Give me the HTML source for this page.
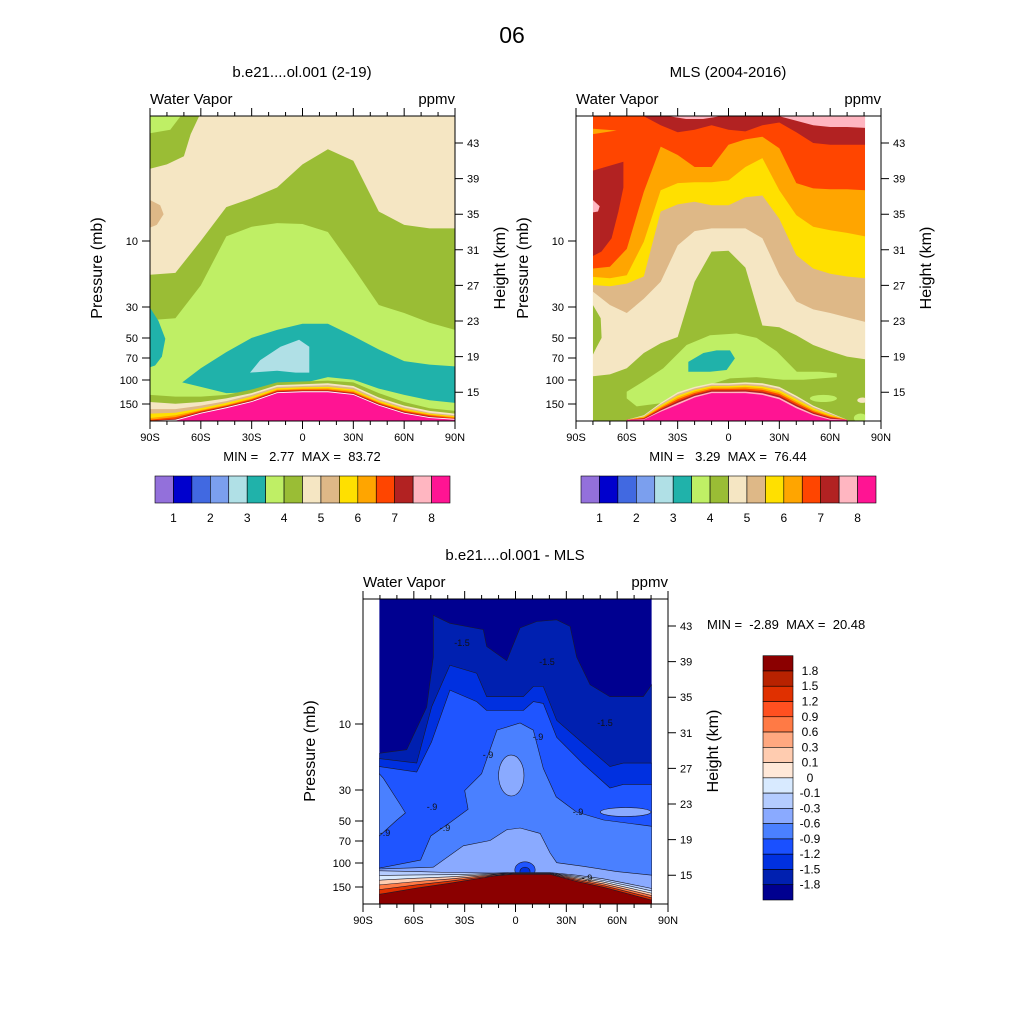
<!DOCTYPE html>
<html><head><meta charset="utf-8">
<style>
html,body{margin:0;padding:0;background:#fff;}
svg{display:block;font-family:"Liberation Sans",sans-serif;}
text{white-space:pre;}
</style></head>
<body>
<svg id="chart" width="1024" height="1024" viewBox="0 0 1024 1024" xmlns="http://www.w3.org/2000/svg">
<text x="512" y="43" font-size="23" text-anchor="middle">06</text>
</svg>
<script>
// ---------- data ----------
const latTickLabels = ['90S','60S','30S','0','30N','60N','90N'];
const latTickValues = [-90,-60,-30,0,30,60,90];
const pressureLabels = ['10','30','50','70','100','150'];
const pressureOffsets = [125,191,222,242,264,288];
const heightLabels = ['43','39','35','31','27','23','19','15'];
const heightValues = [43,39,35,31,27,23,19,15];
const wvColors = ['#9370DB','#0000CD','#4169E1','#7B9FEE','#B0E0E6','#20B2AA','#BFEF65','#9ABD35','#F5E6C3','#DEB887','#FFE000','#FFA500','#FF4500','#B22222','#FFB6C1','#FF1493'];
const wvLabels = ['1','2','3','4','5','6','7','8'];
const diffColors = ['#8B0000','#B82200','#E03000','#FF5020','#FF7A45','#FFA880','#FFCCB0','#FFE8D8','#D8EAFF','#B4CCFF','#8AAAFF','#4A80FF','#1A50FF','#0030E0','#0020B0','#000090'];
const diffLabels = ['1.8','1.5','1.2','0.9','0.6','0.3','0.1','0','-0.1','-0.3','-0.6','-0.9','-1.2','-1.5','-1.8'];

// plot 1 (model)
const p1Lat = [-90,-75,-60,-45,-30,-15,0,15,30,45,60,75,90];
const p1Olive = [28.2,28.4,32,35.8,36.8,38,40.6,42.3,41,35.3,33.8,33.4,33.4];
const p1LightGreen = [23.1,23.3,27,32.5,33.6,34,33.9,33,29,24.8,23.9,22.8,22];
const p1TealLat = [-71,-60,-45,-30,-15,0,15,30,45,60,75,90];
const p1TealTop = [16.1,17.7,19.5,21.1,22,22.7,22.7,21.3,19.8,18.5,18.1,17.9];
const p1TealBot = [16.1,15.6,14.9,15.0,15.3,16.0,16.7,16.4,15.4,14.7,14.1,13.8];
const p1IslandLat = [-31,-25,-13,-2,4,4,-4,-15];
const p1IslandH = [17.2,18.6,20.1,20.9,20.1,17.2,17.2,17.4];
const p1HillOlive = [14.7,14.5,14.5,14.7,15.3,16.1,16.2,16.3,16.1,14.9,13.9,13.2,12.9];
const p1HillWheat = [13.9,13.7,13.9,14.3,14.9,15.8,15.9,16.0,15.7,14.4,13.5,12.9,12.6];
const p1HillTan = [13.1,13.1,13.5,14.0,14.7,15.6,15.7,15.8,15.5,14.2,13.3,12.7,12.4];
const p1HillYellow = [12.6,12.7,13.2,13.8,14.5,15.45,15.55,15.6,15.3,14.05,13.15,12.6,12.3];
const p1HillOrange = [12.1,12.4,13.0,13.6,14.3,15.3,15.4,15.45,15.15,13.9,13.0,12.5,12.2];
const p1HillRed = [11.9,12.2,12.9,13.5,14.2,15.2,15.3,15.3,15.0,13.8,12.9,12.4,12.1];
const p1HillDarkRed = [11.8,12.0,12.8,13.4,14.1,15.1,15.2,15.2,14.9,13.7,12.8,12.3,12.0];
const p1HillPink = [11.8,11.9,12.7,13.3,14.0,15.0,15.1,15.1,14.8,13.6,12.7,12.2,12.0];
const p1HillMagenta = [11.7,11.8,12.6,13.2,13.9,14.9,15.0,15.0,14.7,13.5,12.6,12.1,11.9];

// plot 2 (MLS)
const p2Lat = [-80,-70,-60,-50,-40,-30,-20,-10,0,10,20,30,40,50,60,70,80.6];
const p2Orange = [28.9,29.1,31.1,37.5,42.6,41.65,40.3,40.3,42.8,43.4,43.7,42.4,38.5,37.9,37.8,37.8,37.7];
const p2Yellow = [27.95,27.8,28.15,31.9,37.7,38.5,38.6,38.6,38.8,40.3,41.3,37.7,34.9,33.6,33.2,32.9,32.5];
const p2Tan = [27.05,26.9,27.2,28.0,35.3,36.1,36.4,36.0,36.0,36.9,37.1,34.5,30.4,28.9,28.3,28.0,27.8];
const p2Wheat = [26.3,24.8,23.9,25.5,27.4,31.5,33.1,33.4,33.4,33.4,32.3,28.2,25.2,24.3,23.9,23.4,22.9];
const p2Olive = [16.8,17.0,17.7,19.4,20.5,21.2,27.4,30.8,30.9,29.0,22.5,22.3,21.4,20.3,19.6,19.0,18.7];
const p2TopBandLat = [-50,-40,-30,-20,-10,0,10,20,30,40,50,60,70,80.6];
const p2TopBand = [46,45,44.2,44.5,45,44.5,44.3,45,45.3,44.2,43,42.8,42.8,42.8];
const p2PinkLat = [30,40,50,60,70,80.6];
const p2Pink = [46,45.5,45,44.8,44.8,44.7];
const p2LeftRedLat = [-80,-62,-62,-65,-69,-75,-80];
const p2LeftRedH = [39.9,40.9,38.0,35.3,32.3,30.8,30.3];
const p2LgLat = [-60.1,-50.3,-38.5,-24.7,-10.9,4.8,16.6,28.4,40.3,54,63.9,63.9,44.2,32.3,16.6,0.9,-18.8,-34.5,-54.2,-60.1];
const p2LgH = [15.06,16.2,17.7,20.3,21.4,21.6,21.1,19.6,17.3,17.3,17.1,16.7,16.4,16.4,16.7,16.55,15.4,13.9,13.4,14.3];
const p2TealLat = [-23.7,-14.8,-7,0.9,3.8,-1.1,-10.9,-23.7];
const p2TealH = [18.4,19.4,19.7,19.7,18.8,17.5,17.3,17.3];
const p2IslandLat = [-80,-75.4,-74.9,-78,-80];
const p2IslandH = [24.8,23.3,21.1,20.0,19.2];
const p2HillLat = [-60,-50,-40,-30,-20,-10,0,10,20,30,40,50,60,70];
const p2HillWheat = [11.9,12.4,13.8,15.0,15.6,16.0,16.0,16.1,16.0,15.6,14.6,13.5,12.7,11.9];
const p2HillTan = [11.9,12.33,13.66,14.8,15.43,15.84,15.84,15.93,15.81,15.4,14.4,13.34,12.59,11.9];
const p2HillYellow = [11.9,12.26,13.51,14.6,15.26,15.69,15.69,15.76,15.63,15.2,14.2,13.19,12.47,11.9];
const p2HillOrange = [11.9,12.19,13.37,14.4,15.09,15.53,15.53,15.59,15.44,15.0,14.0,13.03,12.36,11.9];
const p2HillRed = [11.9,12.11,13.23,14.2,14.91,15.37,15.37,15.41,15.26,14.8,13.8,12.87,12.24,11.9];
const p2HillDarkRed = [11.9,12.04,13.09,14.0,14.74,15.21,15.21,15.24,15.07,14.6,13.6,12.71,12.13,11.9];
const p2HillPink = [11.9,11.97,12.94,13.8,14.57,15.06,15.06,15.07,14.89,14.4,13.4,12.56,12.01,11.9];
const p2HillMagenta = [11.9,11.9,12.8,13.6,14.4,14.9,14.9,14.9,14.7,14.2,13.2,12.4,11.9,11.9];

// plot 3 (difference)
const p3ALat = [-80.4,-64.2,-52.4,-48.5,-48.5,-38.7,-19,-17,-5.2,2.7,12.5,24.3,32.2,36.1,44,55.8,75.4,80.4];
const p3AH = [28.7,29.1,33.9,39.5,44.2,43.3,42.6,40.7,39.1,42.8,43.5,43.7,42.95,39.5,36.4,35.06,35.06,36.4];
const p3BLat = [-80.4,-58.3,-49.5,-38.7,-22.9,-17,4.6,10.5,16.4,24.3,40,55.8,63.6,80.4];
const p3BH = [28.1,27.6,33.9,38.6,37.7,35.06,35.06,36.2,36.2,32.4,29.8,27.2,27.6,27.6];
const p3CH = [27.2,26.6,30,35.8,34.5,33.5,33.5,34.5,34.3,30.5,27.5,24.8,25.2,25.2];
const p3DLat = [-80.4,-56,-50,-38,-28,-30,-20,-11,2.7,10.5,16.4,24,36,52,80.4];
const p3DH = [15.8,16.7,19.4,21.0,22.4,24.5,26.4,31.3,32.1,31.3,27,23.8,22.1,21.2,20.5];
const p3PatchLat = [-80.4,-78,-68.2,-65,-70,-80.4];
const p3PatchH = [26.4,25.9,23,22,21.2,19.4];
const p3ELat = [-80.4,-48.5,-30.8,-15,-5.2,2.7,14.5,20.4,24.3,40,59.7,80.4];
const p3EH = [15.7,15.9,18.3,18.9,20.1,20.3,19.7,17.5,16.4,16.0,15.4,15.0];
const p3HillLat = [-80.4,-58.3,-38.7,-13,-1.3,20.4,36.1,51.8,67.6,80.4];
const p3HillU = [15.5,15.4,15.3,15.25,15.3,15.3,15.0,14.6,14.0,13.5];
const p3Hill1 = [14.97,15.03,15.06,15.18,15.26,15.26,14.86,14.41,13.77,13.24];
const p3Hill2 = [14.44,14.66,14.82,15.11,15.22,15.22,14.72,14.22,13.54,12.98];
const p3Hill3 = [13.91,14.29,14.58,15.04,15.18,15.18,14.58,14.03,13.31,12.72];
const p3Hill4 = [13.38,13.92,14.34,14.97,15.14,15.14,14.44,13.84,13.08,12.46];
const p3HillR = [12.85,13.55,14.1,14.9,15.1,15.1,14.3,13.65,12.85,12.2];

// ---------- drawing ----------
const NS = 'http://www.w3.org/2000/svg';
const svg = document.getElementById('chart');
function mk(tag, attrs, parent) {
  const e = document.createElementNS(NS, tag);
  for (const k in attrs) e.setAttribute(k, attrs[k]);
  (parent || svg).appendChild(e);
  return e;
}
function makePlot(id, x0, y0, base, latMin, latMax) {
  const P = {x0, y0, base, latMin, latMax};
  P.X = lat => x0 + (lat + 90) / 180 * 305;
  P.Y = h => base + (43 - h) * 8.9;
  const defs = mk('defs', {});
  const cp = mk('clipPath', {id: 'clip' + id}, defs);
  mk('rect', {x: P.X(latMin), y: y0, width: P.X(latMax) - P.X(latMin), height: 305}, cp);
  P.g = mk('g', {'clip-path': 'url(#clip' + id + ')'});
  
  
  return P;
}
function fillDown(P, lats, hs, color, name, stroke) {
  const pts = lats.map((l, i) => P.X(l).toFixed(1) + ',' + P.Y(hs[i]).toFixed(1));
  pts.push(P.X(lats[lats.length - 1]).toFixed(1) + ',' + (P.y0 + 320));
  pts.push(P.X(lats[0]).toFixed(1) + ',' + (P.y0 + 320));
  const p = mk('polygon', {points: pts.join(' '), fill: color, stroke: stroke || 'none', 'stroke-width': 0.6}, P.g);
  
  
  return p;
}
function fillUp(P, lats, hs, color, name, stroke) {
  const pts = lats.map((l, i) => P.X(l).toFixed(1) + ',' + P.Y(hs[i]).toFixed(1));
  pts.push(P.X(lats[lats.length - 1]).toFixed(1) + ',' + (P.y0 - 10));
  pts.push(P.X(lats[0]).toFixed(1) + ',' + (P.y0 - 10));
  const p = mk('polygon', {points: pts.join(' '), fill: color, stroke: stroke || 'none', 'stroke-width': 0.6}, P.g);
  
  
  return p;
}
function closed(P, lats, hs, color, name, stroke) {
  const pts = lats.map((l, i) => P.X(l).toFixed(1) + ',' + P.Y(hs[i]).toFixed(1));
  const p = mk('polygon', {points: pts.join(' '), fill: color, stroke: stroke || 'none', 'stroke-width': 0.6}, P.g);
  
  
  return p;
}
function band(P, lats, top, bot, color, name) {
  return closed(P, lats.concat(lats.slice().reverse()), top.concat(bot.slice().reverse()), color, name);
}
function blob(P, lat, h, rl, rh, color, name, stroke) {
  const e = mk('ellipse', {cx: P.X(lat), cy: P.Y(h), rx: rl / 180 * 305, ry: rh * 8.9, fill: color, stroke: stroke || 'none', 'stroke-width': 0.6}, P.g);
  
  
}
function bgRect(P, color, name) {
  const r = mk('rect', {x: P.X(P.latMin), y: P.y0, width: P.X(P.latMax) - P.X(P.latMin), height: 305, fill: color}, P.g);
  
  
}
function txt(x, y, s, size, anchor, name, rot) {
  const t = mk('text', {x, y, 'font-size': size, 'text-anchor': anchor || 'start'});
  t.setAttribute('xml:space', 'preserve');
  if (rot) t.setAttribute('transform', 'rotate(-90 ' + x + ' ' + y + ')');
  t.textContent = s;
  
  
  return t;
}
function axes(P, id, title, minmax) {
  const x0 = P.x0, y0 = P.y0, x1 = x0 + 305, y1 = y0 + 305;
  const f = mk('rect', {x: x0, y: y0, width: 305, height: 305, fill: 'none', stroke: '#000', 'stroke-width': 1});
  
  
  let d = '';
  for (let lat = -90; lat <= 90; lat += 10) {
    const x = P.X(lat), L = (lat % 30 === 0) ? 8 : 4;
    d += `M${x},${y0}v${-L}M${x},${y1}v${L}`;
  }
  pressureOffsets.forEach(o => { d += `M${x0},${y0 + o}h-8`; });
  heightValues.forEach(h => { d += `M${x1},${P.Y(h)}h8`; });
  const t = mk('path', {d, stroke: '#000', 'stroke-width': 1, fill: 'none'});
  
  
  latTickValues.forEach((v, i) => txt(P.X(v), y1 + 20, latTickLabels[i], 11, 'middle', 'x-tick-label'));
  pressureLabels.forEach((s, i) => txt(x0 - 12, y0 + pressureOffsets[i] + 4, s, 11, 'end', 'pressure-tick-label'));
  heightValues.forEach((h, i) => txt(x1 + 12, P.Y(h) + 4, heightLabels[i], 11, 'start', 'height-tick-label'));
  txt(x0 - 48, y0 + 152, 'Pressure (mb)', 16, 'middle', 'y-axis-title-pressure', true);
  txt(x1 + 50, y0 + 152, 'Height (km)', 16, 'middle', 'y-axis-title-height', true);
  txt(x0, y0 - 12, 'Water Vapor', 15, 'start', 'variable-label');
  txt(x1, y0 - 12, 'ppmv', 15, 'end', 'units-label');
  txt(x0 + 152, y0 - 39, title, 15, 'middle', 'panel-title');
  if (minmax) txt(x0 + 152, y1 + 40, minmax, 13, 'middle', 'min-max-label');
}
function hColorbar(x0, id) {
  const w = 295 / 16;
  wvColors.forEach((c, i) => {
    const r = mk('rect', {x: x0 + i * w, y: 476, width: w, height: 27, fill: c, stroke: '#000', 'stroke-width': 0.6});
    
    
  });
  wvLabels.forEach((s, i) => txt(x0 + (2 * i + 1) * w, 522, s, 12, 'middle', 'colorbar-label'));
}

// Plot 1
const P1 = makePlot('model', 150, 116, 143, -90, 90);
bgRect(P1, wvColors[8], 'wheat-region');
closed(P1, [-90,-61,-66,-70,-80,-90], [46,46,44,41.5,40.6,40.1], wvColors[7], 'olive-corner');
closed(P1, [-90,-72,-78,-90], [46,46,44.5,44.1], wvColors[6], 'lightgreen-corner');
closed(P1, [-90,-84,-82,-86,-90], [36.6,36,35,33.8,33.5], wvColors[9], 'tan-patch');
fillDown(P1, p1Lat, p1Olive, wvColors[7], 'olive-region');
fillDown(P1, p1Lat, p1LightGreen, wvColors[6], 'lightgreen-region');
closed(P1, [-90,-85,-81,-83,-87,-90], [24.5,23,21,19,18,17.8], wvColors[5], 'teal-patch-left');
band(P1, p1TealLat, p1TealTop, p1TealBot, wvColors[5], 'teal-region');
closed(P1, p1IslandLat, p1IslandH, wvColors[4], 'lightblue-island');
fillDown(P1, p1Lat, p1HillOlive, wvColors[7], 'hill-olive');
fillDown(P1, p1Lat, p1HillWheat, wvColors[8], 'hill-wheat');
fillDown(P1, p1Lat, p1HillTan, wvColors[9], 'hill-tan');
fillDown(P1, p1Lat, p1HillYellow, wvColors[10], 'hill-yellow');
fillDown(P1, p1Lat, p1HillOrange, wvColors[11], 'hill-orange');
fillDown(P1, p1Lat, p1HillRed, wvColors[12], 'hill-red');
fillDown(P1, p1Lat, p1HillDarkRed, wvColors[13], 'hill-darkred');
fillDown(P1, p1Lat, p1HillPink, '#fff', 'hill-white-line');
fillDown(P1, p1Lat, p1HillMagenta, wvColors[15], 'hill-magenta');
axes(P1, 'model', 'b.e21....ol.001 (2-19)', 'MIN =   2.77  MAX =  83.72');
hColorbar(155, 'model');

// Plot 2
const P2 = makePlot('mls', 576, 116, 143, -80, 80.6);
bgRect(P2, wvColors[12], 'orangered-region');
fillUp(P2, p2TopBandLat, p2TopBand, wvColors[13], 'top-darkred-band');
fillUp(P2, p2PinkLat, p2Pink, wvColors[14], 'top-pink-band');
fillUp(P2, [-35,-25,-15,-5], [46,45.7,45.7,46], wvColors[14], 'top-pink-mid');
closed(P2, [-80,-66,-80], [44.6,44.4,44.0], wvColors[11], 'orange-sliver');
closed(P2, p2LeftRedLat, p2LeftRedH, wvColors[13], 'left-darkred');
closed(P2, [-80,-76,-77,-80], [36.6,35.9,35.3,35.2], wvColors[14], 'left-pink-spot');
fillDown(P2, p2Lat, p2Orange, wvColors[11], 'orange-region');
fillDown(P2, p2Lat, p2Yellow, wvColors[10], 'yellow-region');
fillDown(P2, p2Lat, p2Tan, wvColors[9], 'tan-region');
fillDown(P2, p2Lat, p2Wheat, wvColors[8], 'wheat-region');
fillDown(P2, p2Lat, p2Olive, wvColors[7], 'olive-region');
closed(P2, p2IslandLat, p2IslandH, wvColors[7], 'olive-island');
closed(P2, p2LgLat, p2LgH, wvColors[6], 'lightgreen-region');
closed(P2, p2TealLat, p2TealH, wvColors[5], 'teal-island');
blob(P2, 56, 14.3, 8, 0.4, wvColors[6], 'lightgreen-patch');
blob(P2, 79, 14.1, 3, 0.3, wvColors[8], 'wheat-patch');
blob(P2, 78, 12.1, 4, 0.5, wvColors[6], 'lightgreen-patch-corner');
fillDown(P2, p2HillLat, p2HillWheat, wvColors[8], 'hill-wheat');
fillDown(P2, p2HillLat, p2HillTan, wvColors[9], 'hill-tan');
fillDown(P2, p2HillLat, p2HillYellow, wvColors[10], 'hill-yellow');
fillDown(P2, p2HillLat, p2HillOrange, wvColors[11], 'hill-orange');
fillDown(P2, p2HillLat, p2HillRed, wvColors[12], 'hill-red');
fillDown(P2, p2HillLat, p2HillDarkRed, wvColors[13], 'hill-darkred');
fillDown(P2, p2HillLat, p2HillPink, wvColors[14], 'hill-pink');
fillDown(P2, p2HillLat, p2HillMagenta, wvColors[15], 'hill-magenta');
axes(P2, 'mls', 'MLS (2004-2016)', 'MIN =   3.29  MAX =  76.44');
hColorbar(581, 'mls');

// Plot 3
const P3 = makePlot('diff', 363, 599, 626, -80.4, 80.4);
const LN = '#1a1a2a';
bgRect(P3, diffColors[15], 'navy-region');
fillDown(P3, p3ALat, p3AH, diffColors[14], 'diff-band-a', LN);
fillDown(P3, p3BLat, p3BH, diffColors[13], 'diff-band-b', LN);
fillDown(P3, p3BLat, p3CH, '#1F55FF', 'diff-band-c', LN);
closed(P3, p3PatchLat, p3PatchH, diffColors[11], 'diff-left-patch', LN);
fillDown(P3, p3DLat, p3DH, diffColors[11], 'diff-band-d', LN);
blob(P3, -2.5, 26.2, 7.5, 2.3, diffColors[10], 'diff-center-patch', LN);
blob(P3, 65, 22.1, 15, 0.5, diffColors[10], 'diff-right-patch', LN);
fillDown(P3, p3ELat, p3EH, diffColors[10], 'diff-band-e', LN);
blob(P3, 5.6, 15.6, 6, 0.9, '#1F55FF', 'diff-bump-outer', LN);
blob(P3, 5.6, 15.4, 3, 0.5, diffColors[13], 'diff-bump-inner', LN);
fillDown(P3, p3HillLat, p3HillU, diffColors[9], 'diff-hill-u', LN);
fillDown(P3, p3HillLat, p3Hill1, diffColors[8], 'diff-hill-1', LN);
fillDown(P3, p3HillLat, p3Hill2, diffColors[6], 'diff-hill-2', LN);
fillDown(P3, p3HillLat, p3Hill3, diffColors[4], 'diff-hill-3', LN);
fillDown(P3, p3HillLat, p3Hill4, diffColors[2], 'diff-hill-4', LN);
fillDown(P3, p3HillLat, p3HillR, diffColors[0], 'diff-hill-red', LN);
[[462,646,'-1.5'],[547,665,'-1.5'],[605,726,'-1.5'],[488,758,'-.9'],[538,740,'-.9'],[432,810,'-.9'],[445,831,'-.9'],[385,836,'-.9'],[578,815,'-.9'],[587,881,'-.9']].forEach(a => {
  const t = txt(a[0], a[1], a[2], 9, 'middle', 'contour-label');
  t.setAttribute('fill', '#111');
});
axes(P3, 'diff', 'b.e21....ol.001 - MLS', null);
txt(707, 629, 'MIN =  -2.89  MAX =  20.48', 13, 'start', 'min-max-label');
const cbH = 244.3 / 16;
diffColors.forEach((c, i) => {
  const r = mk('rect', {x: 763, y: 655.7 + i * cbH, width: 30, height: cbH, fill: c, stroke: '#000', 'stroke-width': 0.6});
  
  
});
diffLabels.forEach((s, i) => txt(810, 655.7 + (i + 1) * cbH + 4, s, 12, 'middle', 'diff-colorbar-label'));
</script>
</body></html>
